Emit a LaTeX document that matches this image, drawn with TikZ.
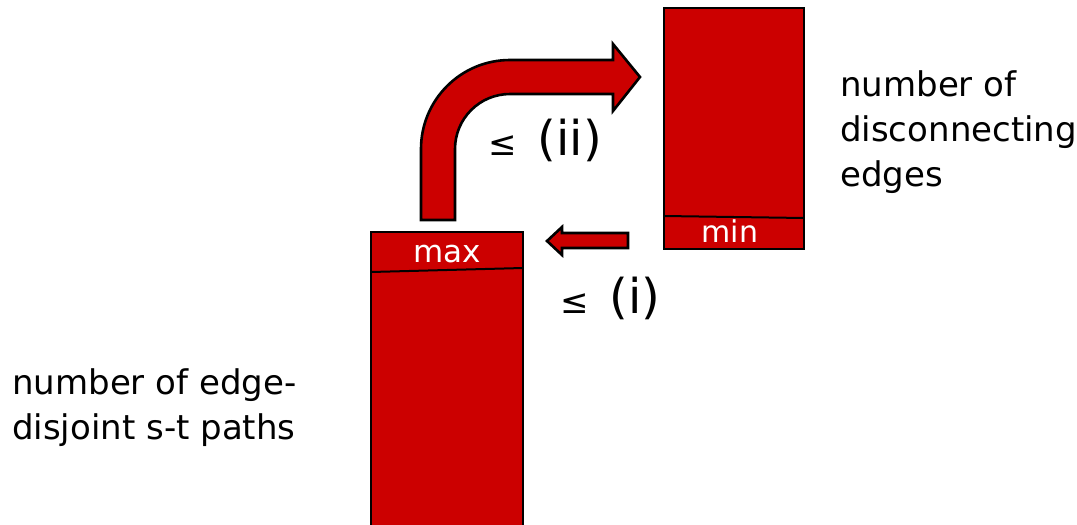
\documentclass[tikz,border=0pt]{standalone}
\usepackage{fontspec}
\setmainfont{DejaVu Sans}
\definecolor{boxred}{HTML}{CC0000}
\begin{document}
\begin{tikzpicture}[x=1pt,y=-1pt,
  redbox/.style={draw=black, line width=2.8pt, fill=boxred, inner sep=0pt},
  blockarrow/.style={draw=black, line width=2.6pt, fill=boxred, line join=miter},
  divider/.style={draw=black, line width=2pt},
  label/.style={inner sep=0pt, text=black, font=\fontsize{34}{45}\selectfont, align=left},
  boxlabel/.style={inner sep=0pt, text=white, font=\fontsize{31}{31}\selectfont},
  rel/.style={inner sep=0pt, text=black, font=\fontsize{48}{48}\selectfont}]
\useasboundingbox (0,0) rectangle (1077,525);
\begin{scope}
\clip (0,0) rectangle (1077,525);
% max box
\node[redbox, minimum width=152pt, minimum height=328pt] (maxbox) at (447,396) {};
\draw[divider] (371,272) -- (523,268);
\node[boxlabel, anchor=base] (maxlabel) at (447,262) {max};
% min box
\node[redbox, minimum width=140pt, minimum height=241pt] (minbox) at (734,128.5) {};
\draw[divider] (664,216) -- (804,218);
\node[boxlabel, font=\fontsize{30}{30}\selectfont, anchor=base] (minlabel) at (730,242) {min};
% curved block arrow (ii)
\path[blockarrow] (421,220) -- (421,149)
  .. controls (421,99.8) and (460.8,60) .. (510,60)
  -- (613,60) -- (613,44) -- (640,77) -- (613,111) -- (613,94) -- (510,94)
  .. controls (479.6,94) and (455,118.6) .. (455,149)
  -- (455,220) -- cycle;
% small block arrow (i)
\path[blockarrow] (628,233) -- (562,233) -- (562,227) -- (547,241) -- (562,255) -- (562,248) -- (628,248) -- cycle;
% relation labels
\node[rel, anchor=base west] (relii) at (488,155) {{\fontsize{34}{34}\selectfont ≤}\hspace{21pt}(ii)};
\node[rel, anchor=base west] (reli) at (560,313) {{\fontsize{34}{34}\selectfont ≤}\hspace{21pt}(i)};
% side texts
\node[label, anchor=north west] (mintext) at (840,70) {number of\\disconnecting\\edges};
\node[label, anchor=north west] (maxtext) at (12,368) {number of edge-\\disjoint s-t paths};
\end{scope}
\end{tikzpicture}
\end{document}
